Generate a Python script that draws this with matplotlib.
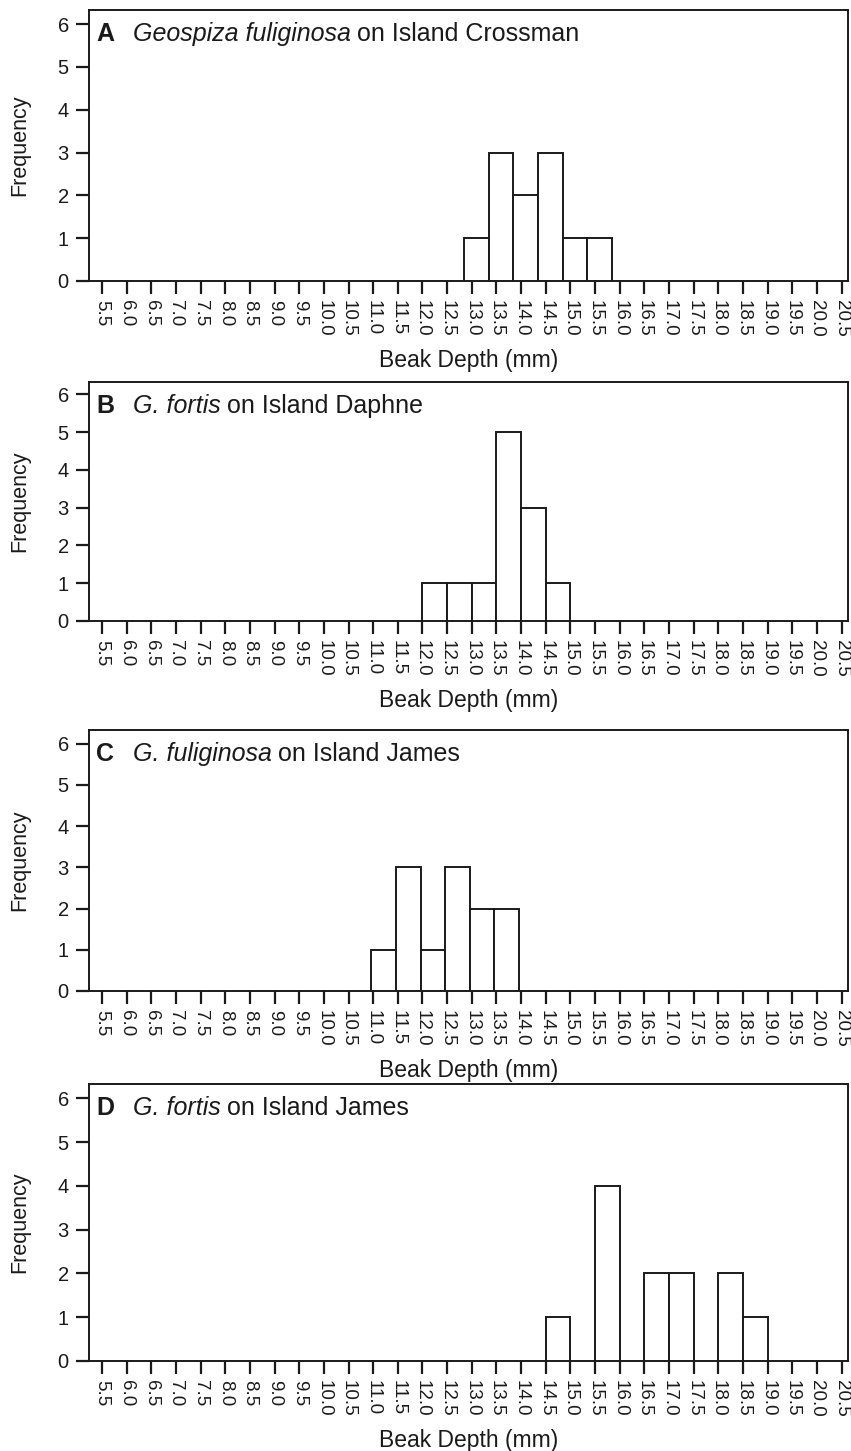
import matplotlib
matplotlib.use("Agg")
import matplotlib.pyplot as plt
import matplotlib.transforms as mtransforms
import numpy as np

plt.rcParams['font.family'] = ['Liberation Sans', 'DejaVu Sans']

# ---- data ----
tick_values = [5.5, 6.0, 6.5, 7.0, 7.5, 8.0, 8.5, 9.0, 9.5, 10.0, 10.5, 11.0, 11.5,
               12.0, 12.5, 13.0, 13.5, 14.0, 14.5, 15.0, 15.5, 16.0, 16.5, 17.0,
               17.5, 18.0, 18.5, 19.0, 19.5, 20.0, 20.5]
tick_labels = ["%.1f" % v for v in tick_values]
y_ticks = [0, 1, 2, 3, 4, 5, 6]

# panel A: Geospiza fuliginosa on Island Crossman
a_edges = [12.84, 13.34, 13.84, 14.34, 14.84, 15.34, 15.84]
a_counts = [1, 3, 2, 3, 1, 1]
# panel B: G. fortis on Island Daphne
b_edges = [12.0, 12.5, 13.0, 13.5, 14.0, 14.5, 15.0]
b_counts = [1, 1, 1, 5, 3, 1]
# panel C: G. fuliginosa on Island James
c_edges = [10.96, 11.46, 11.96, 12.46, 12.96, 13.46, 13.96]
c_counts = [1, 3, 1, 3, 2, 2]
# panel D: G. fortis on Island James
d_edges = [14.5, 15.0, 15.5, 16.0, 16.5, 17.0, 17.5, 18.0, 18.5, 19.0]
d_counts = [1, 0, 4, 0, 2, 2, 0, 2, 1]

letters = ["A", "B", "C", "D"]
species = ["Geospiza fuliginosa", "G. fortis", "G. fuliginosa", "G. fortis"]
islands = ["on Island Crossman", "on Island Daphne", "on Island James", "on Island James"]

panels = [(a_edges, a_counts), (b_edges, b_counts), (c_edges, c_counts), (d_edges, d_counts)]

W, H = 851, 1451
fig = plt.figure(figsize=(W / 100, H / 100), dpi=100)

# axes boxes in pixels: (top, bottom)
boxes = [(10, 281), (382, 621), (730, 991), (1084, 1361)]
left_px, right_px = 89, 848
ink = '#1a1a1a'

for i, ((edges, counts), (top, bot)) in enumerate(zip(panels, boxes)):
    ax = fig.add_axes([left_px / W, 1 - bot / H, (right_px - left_px) / W, (bot - top) / H])
    edges = np.array(edges)
    counts = np.array(counts)
    widths = np.diff(edges)
    mask = counts > 0
    ax.bar(edges[:-1][mask], counts[mask], width=widths[mask], align='edge',
           facecolor='white', edgecolor=ink, linewidth=1.4, zorder=3)
    ax.set_xlim(5.236, 20.63)
    ax.set_ylim(0, 6.33)
    ax.set_xticks(tick_values)
    ax.set_xticklabels(tick_labels, rotation=270, fontsize=13.5)
    ax.set_yticks(y_ticks)
    ax.set_yticklabels([str(v) for v in y_ticks], fontsize=14.5)
    ax.tick_params(axis='x', direction='out', length=9, width=1.6, pad=4.5, colors=ink)
    ax.tick_params(axis='y', direction='out', length=9.5, width=1.6, pad=5, colors=ink)
    for s in ax.spines.values():
        s.set_linewidth(1.4)
        s.set_color(ink)
    ax.set_xlabel("Beak Depth (mm)", fontsize=16.5, labelpad=9, color=ink)
    ax.set_ylabel("Frequency", fontsize=15.5, labelpad=20, color=ink)
    off = mtransforms.offset_copy(ax.transAxes, fig=fig, x=0, y=-24, units='dots')
    ax.text(7 / (right_px - left_px), 1.0, letters[i], transform=off, fontsize=18,
            fontweight='bold', va='center', ha='left', color=ink)
    t1 = ax.text(44 / (right_px - left_px), 1.0, species[i], transform=off, fontsize=18,
                 style='italic', va='center', ha='left', color=ink)
    fig.canvas.draw()
    bb = t1.get_window_extent()
    x_end = ax.transAxes.inverted().transform((bb.x1, bb.y0))[0]
    ax.text(x_end + 0.008, 1.0, islands[i], transform=off, fontsize=18,
            va='center', ha='left', color=ink)

fig.savefig("out.png", dpi=100)
